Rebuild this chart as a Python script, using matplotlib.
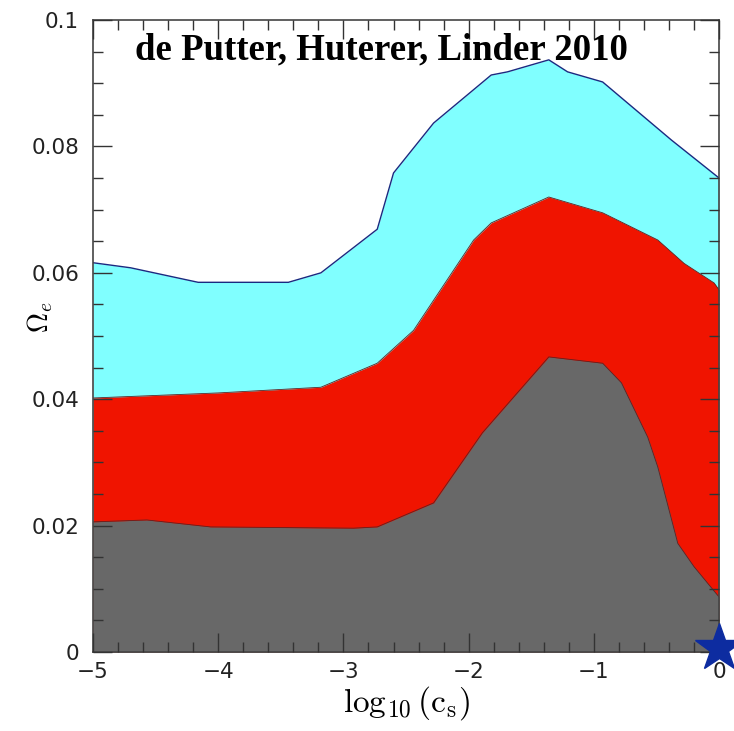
import matplotlib
matplotlib.use('Agg')
import matplotlib.pyplot as plt
from matplotlib.ticker import MultipleLocator

# outer (cyan) contour
x_cyan = [-5.0, -4.70, -4.16, -3.44, -3.18, -2.73, -2.60, -2.28, -1.82, -1.69, -1.36, -1.21, -0.93, -0.38, 0.0]
y_cyan = [0.0616, 0.0608, 0.0585, 0.0585, 0.0600, 0.0669, 0.0758, 0.0837, 0.0913, 0.0918, 0.0937, 0.0918, 0.0902, 0.0810, 0.0750]

# middle (red) contour
x_red = [-5.0, -4.0, -3.18, -2.73, -2.44, -1.96, -1.82, -1.36, -0.93, -0.49, -0.28, -0.04, 0.0]
y_red = [0.0402, 0.0410, 0.0419, 0.0457, 0.0509, 0.0652, 0.0679, 0.0720, 0.0695, 0.0652, 0.0615, 0.0584, 0.0573]

# inner (grey) contour
x_grey = [-5.0, -4.57, -4.06, -2.92, -2.73, -2.28, -1.89, -1.36, -0.93, -0.78, -0.57, -0.49, -0.33, -0.20, 0.0]
y_grey = [0.0206, 0.0209, 0.0198, 0.0196, 0.0198, 0.0236, 0.0347, 0.0467, 0.0457, 0.0426, 0.0340, 0.0293, 0.0172, 0.0135, 0.0087]

star_x, star_y = 0.0, 0.0006

plt.rcParams['mathtext.fontset'] = 'cm'

fig = plt.figure(figsize=(7.34, 7.31), dpi=100)
ax = fig.add_axes([0.1267, 0.108, 0.853, 0.8646])

ax.fill_between(x_cyan, 0, y_cyan, color='#80ffff', lw=0)
ax.plot(x_cyan, y_cyan, color='#1a2a80', lw=1.0)
ax.fill_between(x_red, 0, y_red, color='#f01400', lw=0)
ax.plot(x_red, y_red, color='#602020', lw=0.6)
ax.fill_between(x_grey, 0, y_grey, color='#686868', lw=0)
ax.plot(x_grey, y_grey, color='#602020', lw=0.6)

ax.plot(star_x, star_y, marker='*', ms=36, color='#0d2ca0', clip_on=False, zorder=10)

ax.text(-2.70, 0.0953, 'de Putter, Huterer, Linder 2010', family='Liberation Serif',
        fontweight='bold', fontsize=26.5, ha='center', va='center')

ax.set_xlim(-5, 0)
ax.set_ylim(0, 0.1)
ax.xaxis.set_minor_locator(MultipleLocator(0.2))
ax.yaxis.set_minor_locator(MultipleLocator(0.005))
ax.set_yticks([0, 0.02, 0.04, 0.06, 0.08, 0.1])
ax.set_yticklabels(['0', '0.02', '0.04', '0.06', '0.08', '0.1'])
ax.set_xticks([-5, -4, -3, -2, -1, 0])
ax.set_xticklabels(['\u22125', '\u22124', '\u22123', '\u22122', '\u22121', '0'])
ax.tick_params(which='both', direction='in', top=True, right=True, labelsize=15.5,
               labelcolor='#222222', color='#333333')
ax.tick_params(which='major', length=14, width=1)
ax.tick_params(which='minor', length=7, width=1)
ax.tick_params(axis='x', pad=7)
ax.tick_params(axis='y', pad=10)
for s in ax.spines.values():
    s.set_color('#444444')
    s.set_linewidth(1.2)
ax.set_axisbelow(False)

ax.set_xlabel(r'$\log_{10}(\mathrm{c_s})$', fontsize=24, labelpad=2)
ax.set_ylabel(r'$\Omega_e$', fontsize=20)
ax.yaxis.set_label_coords(-0.06, 0.53)

fig.savefig('out.png', dpi=100)
